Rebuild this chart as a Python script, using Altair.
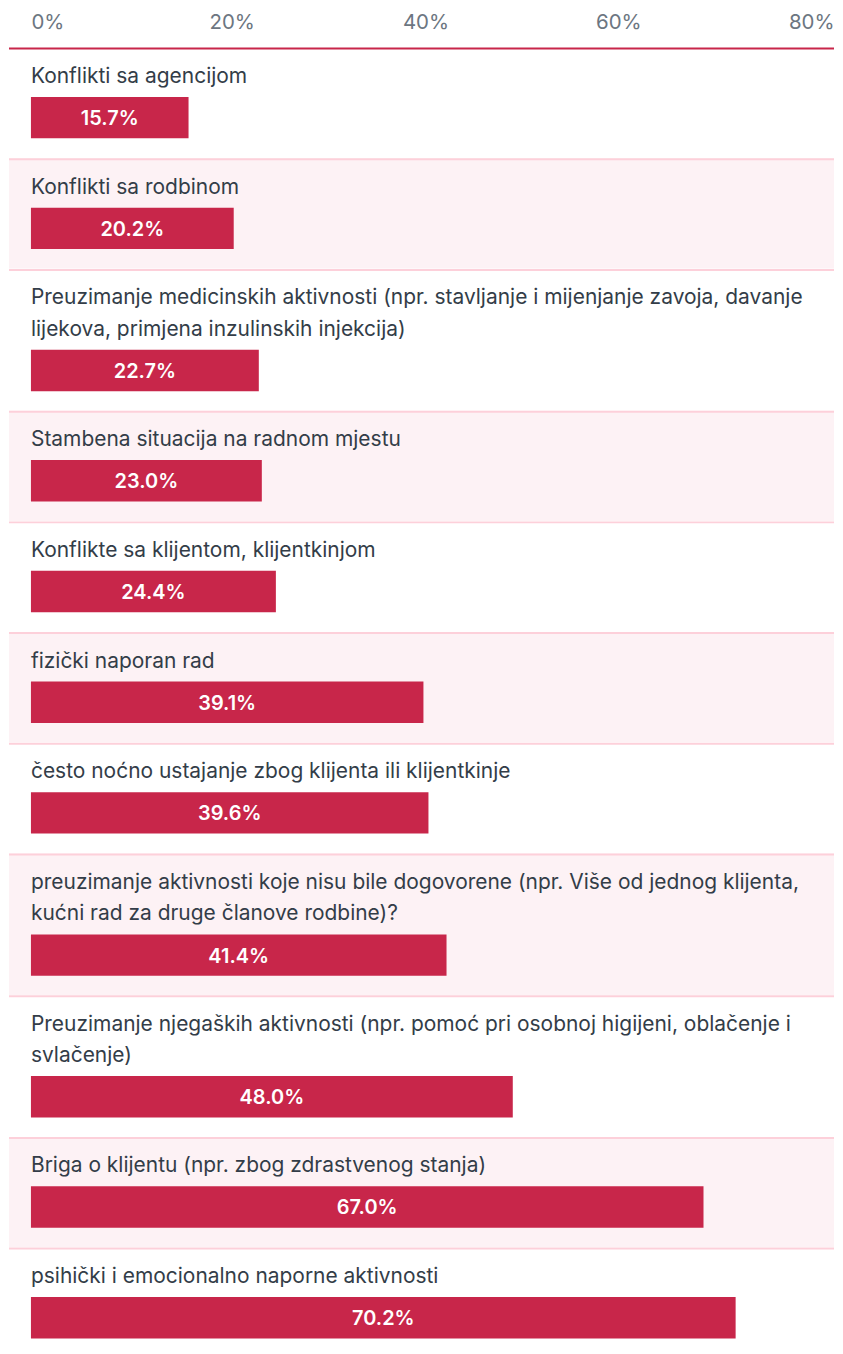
import altair as alt

LABELS = [
    "Konflikti sa agencijom",
    "Konflikti sa rodbinom",
    "Preuzimanje medicinskih aktivnosti (npr. stavljanje i mijenjanje zavoja, davanje\nlijekova, primjena inzulinskih injekcija)",
    "Stambena situacija na radnom mjestu",
    "Konflikte sa klijentom, klijentkinjom",
    "fizički naporan rad",
    "često noćno ustajanje zbog klijenta ili klijentkinje",
    "preuzimanje aktivnosti koje nisu bile dogovorene (npr. Više od jednog klijenta,\nkućni rad za druge članove rodbine)?",
    "Preuzimanje njegaških aktivnosti (npr. pomoć pri osobnoj higijeni, oblačenje i\nsvlačenje)",
    "Briga o klijentu (npr. zbog zdrastvenog stanja)",
    "psihički i emocionalno naporne aktivnosti",
]
VALUES = [15.7, 20.2, 22.7, 23.0, 24.4, 39.1, 39.6, 41.4, 48.0, 67.0, 70.2]
TICKS = [0, 20, 40, 60, 80]

BAR = "#c8264a"
PINK_BG = "#fdf2f5"
SEP = "#fdd0da"
TEXT = "#333d48"
AXIS_GRAY = "#6c7681"
FONT = "Inter"

W = 827
ROW_H = 110.5
LINE_H = 31.5

x_scale = alt.Scale(domain=[0, 80], range=[22, 827], nice=False, zero=True)

top_axis = alt.Axis(
    orient="top", values=TICKS, labelExpr="datum.value + '%'", title=None,
    domain=False, ticks=False, tickSize=0, grid=False, labelFlush=True,
    labelFont=FONT, labelFontSize=20.5, labelColor=AXIS_GRAY, labelPadding=19,
    labelBaseline="alphabetic",
    labelOffset={"condition": [{"test": "datum.value === 40", "value": -7},
                               {"test": "datum.value === 60", "value": -15}],
                 "value": 0},
)

rows = []
for i, (lab, val) in enumerate(zip(LABELS, VALUES)):
    n = lab.count("\n") + 1
    extra = LINE_H * (n - 1)
    h = ROW_H + extra
    if i == len(LABELS) - 1:
        h = 96
    bar_top = 49.5 + extra
    bar_bot = bar_top + 41.5
    axis = top_axis if i == 0 else None
    base = alt.Chart(alt.Data(values=[{"label": lab, "value": val}]))
    sep = base.mark_rule(color=BAR if i == 0 else SEP, strokeWidth=2).encode(
        x=alt.value(0), x2=alt.value(W), y=alt.value(1)
    )
    label = base.mark_text(
        align="left", baseline="alphabetic", font=FONT, fontSize=21,
        color=TEXT, lineBreak="\n", lineHeight=LINE_H
    ).encode(x=alt.value(22), y=alt.value(35.5), text="label:N")
    bar = base.mark_bar(color=BAR).encode(
        x=alt.X("value:Q", scale=x_scale, axis=axis),
        x2=alt.datum(0),
        y=alt.value(bar_top), y2=alt.value(bar_bot),
    )
    vt = base.transform_calculate(
        mid="datum.value / 2", txt="format(datum.value, '.1f') + '%'"
    ).mark_text(
        align="center", baseline="alphabetic", font=FONT, fontSize=20,
        fontWeight=600, color="white"
    ).encode(
        x=alt.X("mid:Q", scale=x_scale, axis=axis),
        y=alt.value(bar_top + 20.75 + 7.5), text="txt:N",
    )
    layer = alt.layer(sep, label, bar, vt).properties(
        width=W, height=h,
        view=alt.ViewBackground(fill=PINK_BG if i % 2 == 1 else "white", stroke=None),
    )
    rows.append(layer)

chart = alt.vconcat(*rows, spacing=0).properties(
    padding={"top": 3, "left": 0, "right": 0, "bottom": 0}
).configure_view(stroke=None).configure_concat(spacing=0)

chart.save("out.html", embed_options={"renderer": "svg", "actions": False})
